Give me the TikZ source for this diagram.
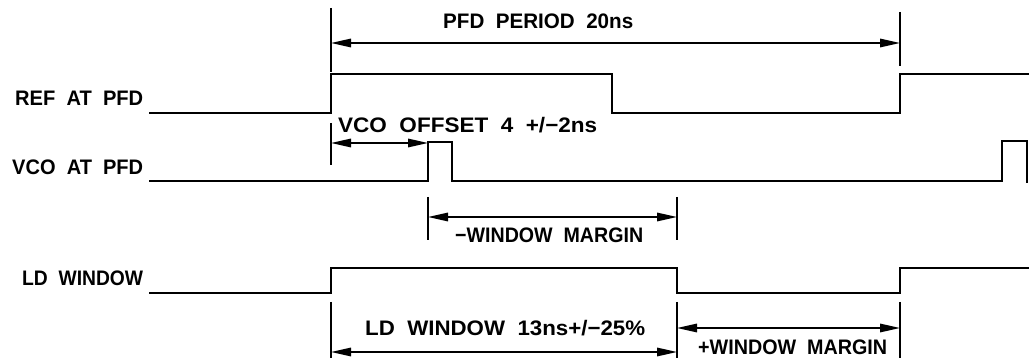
\documentclass[tikz,border=0pt]{standalone}
\usepackage{fontspec}
\usepackage{graphicx}
\setmainfont{Liberation Sans}[WordSpace=2]
\usetikzlibrary{arrows.meta}
\newcommand{\fitlabel}[2]{\resizebox{#1}{\height}{\fontsize{21}{25}\selectfont\bfseries #2}}
\begin{document}
\begin{tikzpicture}[x=1pt,y=-1pt,
  wave/.style={line width=2pt, line join=miter},
  tickline/.style={line width=2pt},
  dimline/.style={line width=1.6pt, {Triangle[length=20pt,width=8.5pt]}-{Triangle[length=20pt,width=8.5pt]}},
  lbl/.style={inner sep=0pt, anchor=base west}]
\useasboundingbox (0,0) rectangle (1029,358);

% signal names
\node[lbl] (nref) at (15,106) {\fitlabel{128pt}{REF AT PFD}};
\node[lbl] (nvco) at (12,175) {\fitlabel{131pt}{VCO AT PFD}};
\node[lbl] (nld)  at (22,286) {\fitlabel{121pt}{LD WINDOW}};

% waveforms
\draw[wave] (149,113) -- (331,113) -- (331,74) -- (612,74) -- (612,113) -- (900,113) -- (900,74) -- (1031,74);
\draw[wave] (149,181) -- (428,181) -- (428,142) -- (452,142) -- (452,181) -- (1002,181) -- (1002,141) -- (1027,141) -- (1027,183);
\draw[wave] (149,293) -- (331,293) -- (331,268) -- (677,268) -- (677,293) -- (900,293) -- (900,268) -- (1031,268);

% PFD period
\coordinate (pa1) at (331,8);   \coordinate (pa2) at (331,72);
\coordinate (pb1) at (900,12);  \coordinate (pb2) at (900,66);
\coordinate (pl) at (331,43);   \coordinate (pr) at (900,43);
\draw[tickline] (pa1) -- (pa2);
\draw[tickline] (pb1) -- (pb2);
\draw[dimline] (pl) -- (pr);
\node[lbl] (tper) at (443,29) {\fitlabel{190pt}{PFD PERIOD 20ns}};

% VCO offset
\coordinate (oa1) at (331,123); \coordinate (oa2) at (331,165);
\coordinate (ol) at (331,143);  \coordinate (or) at (428,143);
\draw[tickline] (oa1) -- (oa2);
\draw[dimline] (ol) -- (or);
\node[lbl] (toff) at (338,133) {\fitlabel{259pt}{VCO OFFSET 4 +/−2ns}};

% -window margin
\coordinate (ma1) at (428,197); \coordinate (ma2) at (428,240);
\coordinate (mb1) at (677,197); \coordinate (mb2) at (677,240);
\coordinate (ml) at (428,217);  \coordinate (mr) at (677,217);
\draw[tickline] (ma1) -- (ma2);
\draw[tickline] (mb1) -- (mb2);
\draw[dimline] (ml) -- (mr);
\node[lbl] (tmm) at (455,243) {\fitlabel{188pt}{−WINDOW MARGIN}};

% LD window width and +window margin
\coordinate (la1) at (331,302); \coordinate (la2) at (331,360);
\coordinate (lb1) at (677,302); \coordinate (lb2) at (677,360);
\coordinate (lc1) at (900,302); \coordinate (lc2) at (900,360);
\draw[tickline] (la1) -- (la2);
\draw[tickline] (lb1) -- (lb2);
\draw[tickline] (lc1) -- (lc2);
\coordinate (wl) at (331,352); \coordinate (wr) at (677,352);
\draw[dimline] (wl) -- (wr);
\node[lbl] (tld) at (365,336) {\fitlabel{280pt}{LD WINDOW 13ns+/−25\%}};
\coordinate (pl2) at (677,328); \coordinate (pr2) at (900,328);
\draw[dimline] (pl2) -- (pr2);
\node[lbl] (tpm) at (698,354) {\fitlabel{189pt}{+WINDOW MARGIN}};
\end{tikzpicture}
\end{document}
